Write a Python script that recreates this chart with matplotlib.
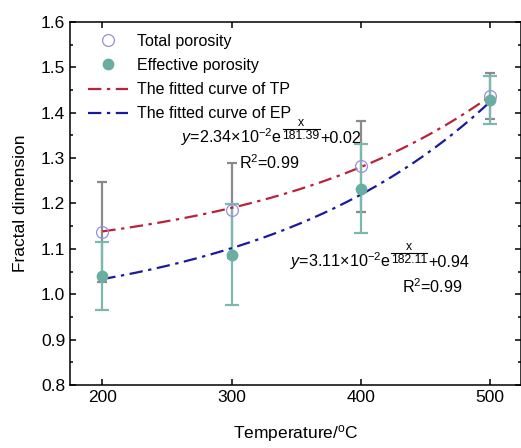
import numpy as np
import matplotlib
matplotlib.use("Agg")
import matplotlib.pyplot as plt
from matplotlib.ticker import MultipleLocator, FormatStrFormatter
from matplotlib.transforms import IdentityTransform

plt.rcParams['font.family'] = ['Liberation Sans', 'DejaVu Sans']
plt.rcParams['mathtext.fontset'] = 'custom'
plt.rcParams['mathtext.rm'] = 'Liberation Sans'
plt.rcParams['mathtext.it'] = 'Liberation Sans:italic'

# ---- data ----
temperature = [200, 300, 400, 500]
total_porosity = [1.138, 1.185, 1.282, 1.437]
total_err = [0.110, 0.105, 0.100, 0.051]
effective_porosity = [1.040, 1.087, 1.232, 1.428]
effective_err = [0.075, 0.111, 0.098, 0.053]

# fitted curve parameters y = A*exp(x/t) + y0
tp_fit = dict(A=2.34e-2, t=181.39, y0=1.068)
ep_fit = dict(A=3.11e-2, t=182.11, y0=0.94)

legend_labels = ['Total porosity', 'Effective porosity',
                 'The fitted curve of TP', 'The fitted curve of EP']

fig = plt.figure(figsize=(5.21, 4.48), dpi=100)
ax = fig.add_axes([0.1344, 0.1406, 0.866, 0.8104])

xf = np.linspace(temperature[0], temperature[-1], 200)
tp_curve = tp_fit['A'] * np.exp(xf / tp_fit['t']) + tp_fit['y0']
ep_curve = ep_fit['A'] * np.exp(xf / ep_fit['t']) + ep_fit['y0']

gray = '#8a8a8a'
teal = '#7cb9ad'
teal_fill = '#6aaea1'
lav = '#9a8ed6'
red = '#b8233b'
blue = '#1a1a9e'

ax.errorbar(temperature, total_porosity, yerr=total_err, fmt='none',
            ecolor=gray, elinewidth=1.6, capsize=3.8, capthick=1.6, zorder=2)
ax.errorbar(temperature, effective_porosity, yerr=effective_err, fmt='none',
            ecolor=teal, elinewidth=1.6, capsize=4.8, capthick=1.6, zorder=3)

h1, = ax.plot(temperature, total_porosity, 'o', ms=8.5, mfc='none', mec=lav,
              mew=0.9, zorder=5, label=legend_labels[0])
h2, = ax.plot(temperature, effective_porosity, 'o', ms=7.5, mfc=teal_fill,
              mec=teal_fill, zorder=5, label=legend_labels[1])
h3, = ax.plot(xf, tp_curve, color=red, lw=1.6, ls=(0, (6, 2.5, 1.5, 2.5)),
              zorder=4, label=legend_labels[2])
h4, = ax.plot(xf, ep_curve, color=blue, lw=1.6, ls=(0, (6, 2.5, 1.5, 2.5)),
              zorder=4, label=legend_labels[3])

ax.set_xlim(175, 524)
ax.set_ylim(0.8, 1.6)
ax.xaxis.set_major_locator(MultipleLocator(100))
ax.yaxis.set_major_locator(MultipleLocator(0.1))
ax.yaxis.set_minor_locator(MultipleLocator(0.05))
ax.yaxis.set_major_formatter(FormatStrFormatter('%.1f'))
ax.tick_params(which='both', direction='in', top=True, right=True,
               labelsize=12.5, width=1.1)
ax.tick_params(which='major', length=4)
ax.tick_params(which='minor', length=2.5)
for s in ax.spines.values():
    s.set_linewidth(1.1)

ax.set_xlabel('Temperature/$^{\\mathrm{o}}$C', fontsize=12.5, labelpad=13)
ax.set_ylabel('Fractal dimension', fontsize=12.5, labelpad=9)

leg = ax.legend(handles=[h1, h2, h3, h4], loc='upper left', frameon=False,
                fontsize=11.5, handlelength=2.5, handletextpad=0.55,
                labelspacing=0.58, bbox_to_anchor=(0.04, 0.968),
                borderaxespad=0.0, borderpad=0.0)

fs = 11.6
small = 8.8
renderer = fig.canvas.get_renderer()


def formula(x, y, prefix, denom, suffix):
    t1 = ax.text(x, y, prefix, fontsize=fs, ha='left', va='baseline')
    bb = t1.get_window_extent(renderer)
    bx, by = ax.transData.transform((x, y))
    x1 = bb.x1 + 0.5
    td = fig.text(x1, by + 4.5, denom, fontsize=small, ha='left', va='baseline',
                  transform=IdentityTransform())
    bbd = td.get_window_extent(renderer)
    fig.add_artist(plt.Line2D([bbd.x0, bbd.x1], [by + 14.5, by + 14.5],
                              lw=0.8, color='black',
                              transform=IdentityTransform()))
    fig.text((bbd.x0 + bbd.x1) / 2, by + 17, 'x', fontsize=small, ha='center',
             va='baseline', transform=IdentityTransform())
    fig.text(bbd.x1 + 0.5, by, suffix, fontsize=fs, ha='left', va='baseline',
             transform=IdentityTransform())


formula(261, 1.333, r'$\mathit{y}$=2.34×10$^{-2}$e', '181.39', '+0.02')
ax.text(306, 1.277, r'R$^2$=0.99', fontsize=fs, ha='left', va='baseline')
formula(345, 1.059, r'$\mathit{y}$=3.11×10$^{-2}$e', '182.11', '+0.94')
ax.text(479, 1.003, r'R$^2$=0.99', fontsize=fs, ha='right', va='baseline')

fig.savefig('out.png', dpi=100)
